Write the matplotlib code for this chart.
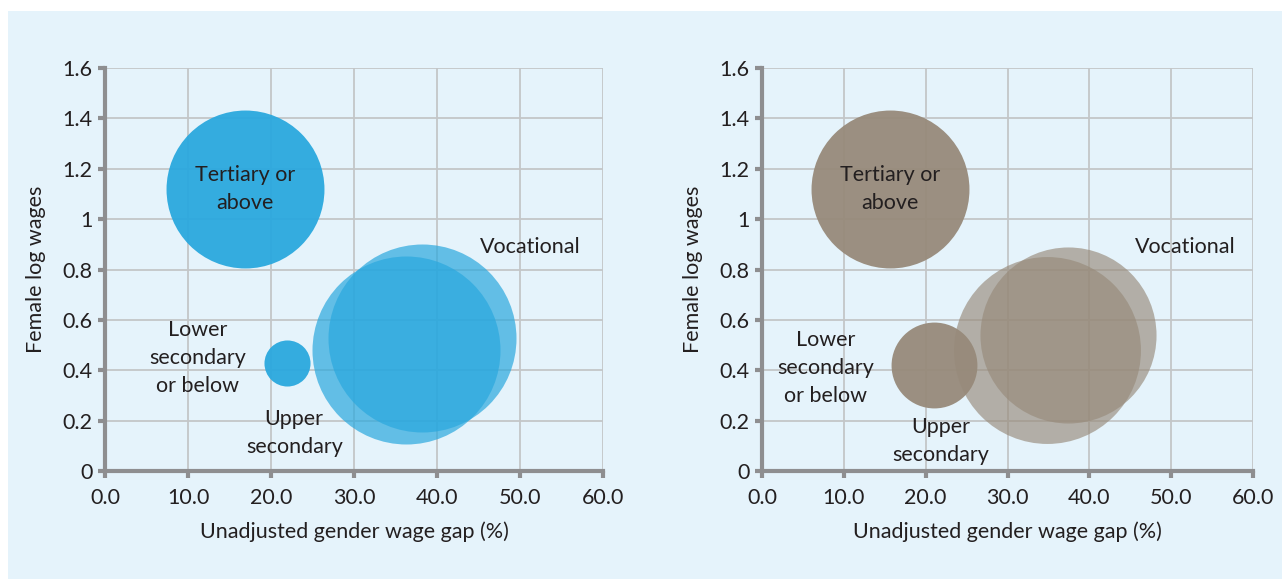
import matplotlib.pyplot as plt
from matplotlib.patches import Rectangle

# --- data ---
categories = ['Tertiary or above', 'Lower secondary or below', 'Upper secondary', 'Vocational']
left_gap = [16.9, 21.9, 36.3, 38.2]
left_wage = [1.12, 0.43, 0.48, 0.53]
left_size = [24.7, 2.1, 35.0, 35.0]
right_gap = [15.6, 21.0, 34.8, 37.4]
right_wage = [1.12, 0.42, 0.48, 0.54]
right_size = [24.7, 7.3, 34.6, 30.7]

x_ticks = [0, 10, 20, 30, 40, 50, 60]
x_labels = ['0.0', '10.0', '20.0', '30.0', '40.0', '50.0', '60.0']
y_ticks = [0, 0.2, 0.4, 0.6, 0.8, 1.0, 1.2, 1.4, 1.6]
y_labels = ['0', '0.2', '0.4', '0.6', '0.8', '1', '1.2', '1.4', '1.6']

plt.rcParams['font.family'] = ['Lato', 'DejaVu Sans']
txt = '#231f20'
axis_gray = '#8e8e90'
bg = '#e5f3fb'
fs = 15.5

fig = plt.figure(figsize=(12.82, 5.79), dpi=100)
fig.patches.append(Rectangle((8 / 1282, 0), 1, 1 - 11 / 579, transform=fig.transFigure,
                             facecolor=bg, edgecolor='none', zorder=-10))

# max bubble (size 35) ~ 94 px radius
def to_s(v):
    r_px = 94 * (v / 35.0) ** 0.5
    return (2 * r_px * 0.72) ** 2


def draw(ax, gx, wy, sz, color, alphas, labels_pos):
    ax.set_facecolor('none')
    for i in range(len(gx)):
        ax.scatter(gx[i], wy[i], s=to_s(sz[i]), color=color, alpha=alphas[i],
                   linewidths=0, zorder=3, clip_on=False)
    ax.set_xlim(0, 60)
    ax.set_ylim(0, 1.6)
    ax.set_xticks(x_ticks, x_labels)
    ax.set_yticks(y_ticks, y_labels)
    ax.grid(True, color='#c3c6c8', lw=1.3, zorder=1)
    ax.set_axisbelow(True)
    for s in ['top', 'right']:
        ax.spines[s].set_visible(False)
    for s in ['left', 'bottom']:
        ax.spines[s].set_color(axis_gray)
        ax.spines[s].set_linewidth(3)
        ax.spines[s].set_zorder(4)
    ax.tick_params(direction='out', length=5, width=3, color=axis_gray,
                   labelsize=fs, labelcolor=txt)
    ax.tick_params(axis='x', pad=7)
    ax.tick_params(axis='y', pad=4)
    ax.set_xlabel('Unadjusted gender wage gap (%)', fontsize=fs, color=txt, labelpad=10)
    ax.set_ylabel('Female log wages', fontsize=fs, color=txt, labelpad=12)
    for label, (x, y) in zip(['Tertiary or\nabove', 'Lower\nsecondary\nor below',
                              'Upper\nsecondary', 'Vocational'], labels_pos):
        ax.text(x, y, label, ha='center', va='center', fontsize=fs, color=txt,
                linespacing=1.5, zorder=5)


ax1 = fig.add_axes([105 / 1282, 108 / 579, 498 / 1282, 403 / 579])
ax2 = fig.add_axes([762 / 1282, 108 / 579, 491 / 1282, 403 / 579])

draw(ax1, left_gap, left_wage, left_size, '#2aa8de', [0.95, 0.95, 0.7, 0.7],
     [(16.9, 1.12), (11.2, 0.45), (22.8, 0.15), (51.2, 0.89)])
draw(ax2, right_gap, right_wage, right_size, '#978a7a', [0.95, 0.95, 0.65, 0.65],
     [(15.6, 1.12), (7.8, 0.41), (21.9, 0.12), (51.7, 0.89)])

fig.savefig('out.png', dpi=100)
